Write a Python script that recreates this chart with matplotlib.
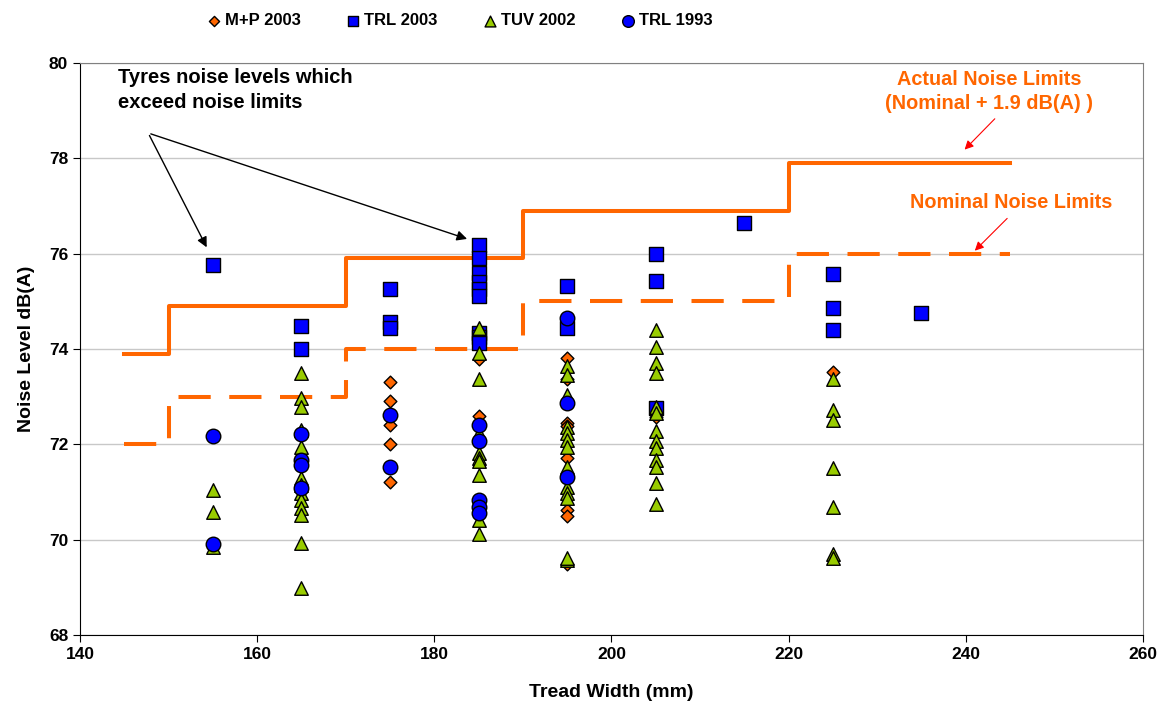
import matplotlib.pyplot as plt
import numpy as np

plt.rcParams['font.family'] = ['Liberation Sans', 'DejaVu Sans']
plt.rcParams['font.weight'] = 'bold'

# measured tyre noise, tread width (mm) -> noise level dB(A)
mp2003_x = [175] * 5 + [185] * 2 + [195] * 8 + [205, 225]
mp2003_y = [73.30, 72.90, 72.40, 72.00, 71.20,
            73.80, 72.60,
            73.82, 73.38, 72.44, 72.39, 71.71, 70.62, 70.50, 69.50,
            72.58, 73.52]

trl2003_x = [155] + [165] * 2 + [175] * 3 + [185] * 9 + [195] * 2 + [205] * 3 + [215] + [225] * 3 + [235]
trl2003_y = [75.76,
             74.48, 73.99,
             75.25, 74.57, 74.45,
             76.18, 75.90, 75.59, 75.41, 75.25, 75.12, 74.33, 74.25, 74.12,
             75.32, 74.45,
             75.99, 75.43, 72.76,
             76.64,
             75.57, 74.85, 74.40,
             74.76]

tuv2002_x = [155] * 3 + [165] * 13 + [185] * 10 + [195] * 13 + [205] * 13 + [225] * 7
tuv2002_y = [71.04, 70.59, 69.85,
             73.49, 72.97, 72.79, 72.31, 71.95, 71.29, 71.15, 70.97, 70.83, 70.66, 70.52, 69.92, 68.98,
             74.43, 73.91, 73.38, 72.23, 71.81, 71.71, 71.65, 71.36, 70.41, 70.12,
             73.64, 73.45, 73.04, 72.37, 72.23, 72.09, 71.95, 71.53, 71.11, 70.97, 70.87, 69.57, 69.61,
             74.40, 74.04, 73.71, 73.50, 72.79, 72.66, 72.27, 72.08, 71.92, 71.67, 71.53, 71.18, 70.75,
             73.36, 72.72, 72.51, 71.50, 70.68, 69.71, 69.61]

trl1993_x = [155] * 2 + [165] * 4 + [175] * 2 + [185] * 5 + [195] * 3
trl1993_y = [72.18, 69.91,
             72.21, 71.67, 71.57, 71.08,
             72.62, 71.53,
             72.41, 72.07, 70.83, 70.69, 70.57,
             74.64, 72.86, 71.32]

# noise limit steps
limit_x = [145, 150, 170, 190, 220, 245]
nominal_y = [72, 73, 74, 75, 76, 76]
actual_y = [73.9, 74.9, 75.9, 76.9, 77.9, 77.9]

orange = '#FF6600'

fig = plt.figure(figsize=(11.71, 7.07), dpi=100)
ax = fig.add_axes([0.0683, 0.1018, 0.9077, 0.8092])

ax.yaxis.grid(True, color='#C8C8C8', lw=1)
ax.set_axisbelow(True)

ax.step(limit_x, actual_y, where='post', color=orange, lw=2.9, zorder=2)
ax.step(limit_x, nominal_y, where='post', color=orange, lw=2.9, dashes=(8, 4.6), zorder=2)

ax.scatter(mp2003_x, mp2003_y, marker='D', s=42, c=orange, edgecolors='black', linewidths=1, zorder=3, label='M+P 2003')
ax.scatter(trl2003_x, trl2003_y, marker='s', s=95, c='#0000FF', edgecolors='black', linewidths=1, zorder=4, label='TRL 2003')
ax.scatter(tuv2002_x, tuv2002_y, marker='^', s=95, c='#99CC00', edgecolors='black', linewidths=1, zorder=5, label='TUV 2002')
ax.scatter(trl1993_x, trl1993_y, marker='o', s=110, c='#0000FF', edgecolors='black', linewidths=1, zorder=6, label='TRL 1993')

ax.set_xlim(140, 260)
ax.set_ylim(68, 80)
ax.set_xticks(np.arange(140, 261, 20))
ax.set_yticks(np.arange(68, 81, 2))
ax.tick_params(labelsize=12.5, length=5, direction='out')
ax.set_xlabel('Tread Width (mm)', fontsize=14, fontweight='bold', labelpad=16)
ax.set_ylabel('Noise Level dB(A)', fontsize=14, fontweight='bold', labelpad=10)

for side in ['top', 'right']:
    ax.spines[side].set_color('#808080')
for side in ['left', 'bottom']:
    ax.spines[side].set_color('black')

# annotations
ax.text(144.3, 79.9, 'Tyres noise levels which\nexceed noise limits', fontsize=14.5, fontweight='bold',
        va='top', ha='left', linespacing=1.45)
for tip in [(154.45, 76.08), (184.0, 76.29)]:
    ax.annotate('', xy=tip, xytext=(147.7, 78.53),
                arrowprops=dict(arrowstyle='-|>', color='black', lw=1, mutation_scale=15))

ax.text(242.6, 79.4, 'Actual Noise Limits\n(Nominal + 1.9 dB(A) )', fontsize=14.3, fontweight='bold',
        color=orange, ha='center', va='center', linespacing=1.3)
ax.annotate('', xy=(239.65, 78.14), xytext=(243.5, 78.87),
            arrowprops=dict(arrowstyle='-|>', color='red', lw=0.8, mutation_scale=13))
ax.text(245.1, 77.08, 'Nominal Noise Limits', fontsize=14.3, fontweight='bold',
        color=orange, ha='center', va='center')
ax.annotate('', xy=(240.8, 76.02), xytext=(244.9, 76.78),
            arrowprops=dict(arrowstyle='-|>', color='red', lw=0.8, mutation_scale=13))

handles, labels = ax.get_legend_handles_labels()
leg = fig.legend(handles, labels, loc='center', bbox_to_anchor=(0.392, 0.971), ncol=4, frameon=False,
                 fontsize=12, columnspacing=2.65, handletextpad=0.15, markerscale=0.8, handlelength=1)

fig.savefig('out.png', dpi=100)
